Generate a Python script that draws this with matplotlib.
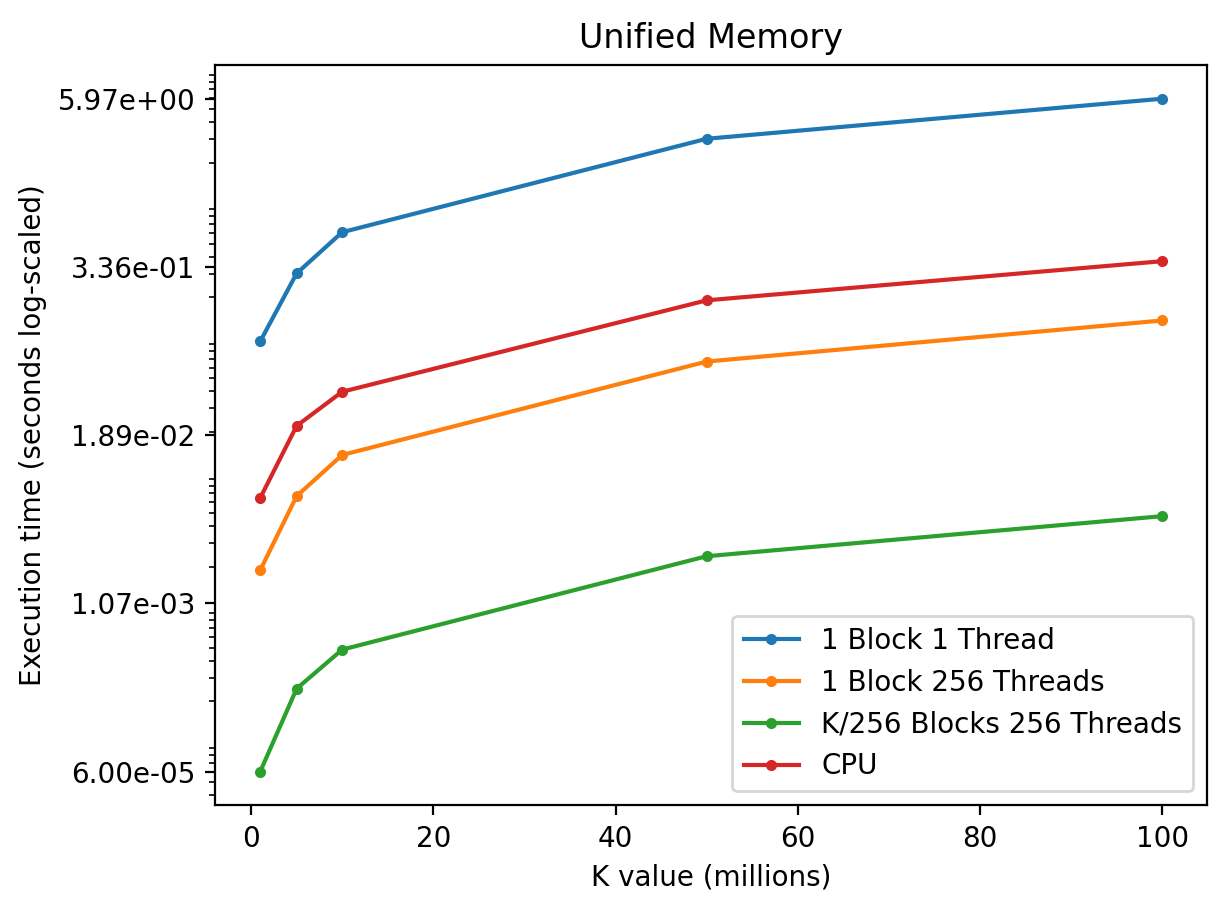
import matplotlib.pyplot as plt
import numpy as np

k_values = [1, 5, 10, 50, 100]
one_block_one_thread = [0.094, 0.301, 0.609, 3.01, 5.97]
one_block_256 = [0.00188, 0.00668, 0.0135, 0.0667, 0.1346]
k256_blocks_256 = [6.00e-05, 2.48e-04, 4.84e-04, 2.39e-03, 4.74e-03]
cpu = [0.00646, 0.0222, 0.0398, 0.190, 0.371]

labels = ["1 Block 1 Thread", "1 Block 256 Threads", "K/256 Blocks 256 Threads", "CPU"]

fig = plt.figure(figsize=(6.11, 4.55), dpi=200)
ax = fig.add_axes([0.176, 0.115, 0.812, 0.8135])

for series, name in zip([one_block_one_thread, one_block_256, k256_blocks_256, cpu], labels):
    ax.plot(k_values, series, marker=".", label=name)

ax.set_yscale("log")
all_vals = np.concatenate([one_block_one_thread, one_block_256, k256_blocks_256, cpu])
ticks = np.geomspace(all_vals.min(), all_vals.max(), 5)
ax.set_yticks(ticks)
ax.set_yticklabels(["%.2e" % t for t in ticks])

ax.set_title("Unified Memory")
ax.set_xlabel("K value (millions)")
ax.set_ylabel("Execution time (seconds log-scaled)")
ax.legend(loc="lower right")

fig.savefig("out.png", dpi=200)
